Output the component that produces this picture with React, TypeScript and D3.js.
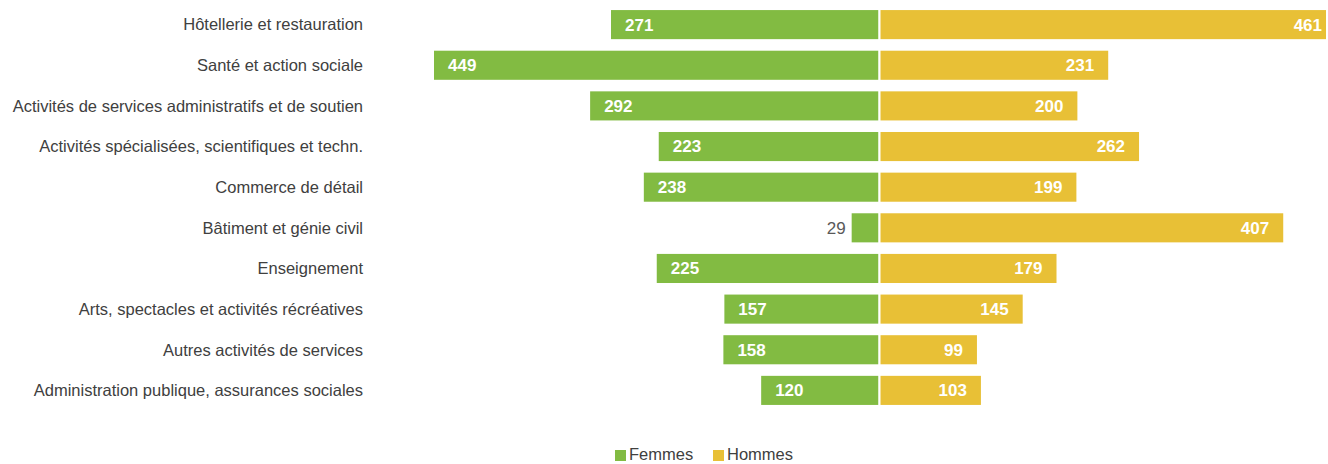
import React from "react";
import * as d3 from "d3";

const categories = [
  "Hôtellerie et restauration",
  "Santé et action sociale",
  "Activités de services administratifs et de soutien",
  "Activités spécialisées, scientifiques et techn.",
  "Commerce de détail",
  "Bâtiment et génie civil",
  "Enseignement",
  "Arts, spectacles et activités récréatives",
  "Autres activités de services",
  "Administration publique, assurances sociales",
];
const femmes = [271, 449, 292, 223, 238, 29, 225, 157, 158, 120];
const hommes = [461, 231, 200, 262, 199, 407, 179, 145, 99, 103];
const seriesNames = ["Femmes", "Hommes"];
const colors = ["#82BB42", "#E8C036"];

const W = 1328;
const H = 464;
const FONT = "'Liberation Sans Narrow', 'Arial Narrow', 'Liberation Sans', Arial, sans-serif";

export default function App() {
  const x = d3.scaleLinear().domain([-449, 449]).range([433, 1326]);
  const y = d3.scaleBand<string>().domain(categories).range([5, 410]).paddingInner(0.235).paddingOuter(0.1);
  const x0 = x(0);
  const bh = y.bandwidth();
  const xMax = x(449);
  return (
    <svg width={W} height={H} style={{ position: "absolute", left: 0, top: 0, fontFamily: FONT }}>
      <defs>
        <clipPath id="plot">
          <rect x={x(-449)} y={0} width={xMax - x(-449)} height={H} />
        </clipPath>
      </defs>
      {categories.map((c, i) => {
        const yy = y(c)!;
        const cy = yy + bh / 2;
        const fx = x(-femmes[i]);
        const hx = x(hommes[i]);
        const fw = x0 - fx;
        const small = fw < 40;
        return (
          <g key={c}>
            <text x={363} y={cy} dy="0.35em" textAnchor="end" fontSize={16.5} fill="#404040">
              {c}
            </text>
            <g clipPath="url(#plot)">
              <rect x={fx} y={yy} width={fw} height={bh} fill={colors[0]} stroke="#fff" strokeWidth={2} />
              <rect x={x0} y={yy} width={hx - x0} height={bh} fill={colors[1]} stroke="#fff" strokeWidth={2} />
            </g>
            {small ? (
              <text x={fx - 5} y={cy} dy="0.35em" textAnchor="end" fontSize={17} fill="#595959">
                {femmes[i]}
              </text>
            ) : (
              <text x={fx + 15} y={cy} dy="0.35em" textAnchor="start" fontSize={17} fontWeight="bold" fill="#fff">
                {femmes[i]}
              </text>
            )}
            <text
              x={Math.min(hx, xMax) - (hx > xMax ? 4 : 15)}
              y={cy}
              dy="0.35em"
              textAnchor="end"
              fontSize={17}
              fontWeight="bold"
              fill="#fff"
            >
              {hommes[i]}
            </text>
          </g>
        );
      })}
      <g>
        {seriesNames.map((s, i) => {
          const lx = [615, 713][i];
          return (
            <g key={s}>
              <rect x={lx} y={450} width={11} height={11} fill={colors[i]} />
              <text x={lx + 14} y={460} fontSize={16.5} fill="#404040">
                {s}
              </text>
            </g>
          );
        })}
      </g>
    </svg>
  );
}
